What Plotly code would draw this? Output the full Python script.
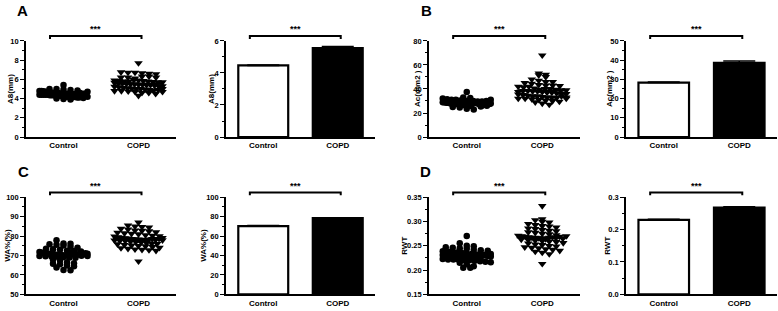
import numpy as np
import plotly.graph_objects as go

W, H = 778, 311
categories = ["Control", "COPD"]

# ---------------- data ----------------
a8_control = [5.4, 5.0, 5.0, 4.95, 4.9, 4.85, 4.8, 4.8, 4.75, 4.7, 4.7, 4.65, 4.6, 4.6, 4.6,
              4.55, 4.55, 4.5, 4.5, 4.5, 4.5, 4.45, 4.45, 4.45, 4.4, 4.4, 4.4, 4.4, 4.4, 4.35,
              4.35, 4.35, 4.3, 4.3, 4.3, 4.3, 4.45, 4.25, 4.2, 4.2, 4.2, 4.45, 4.15, 4.4, 4.1,
              4.1, 4.35, 4.05, 4.3, 4.0, 4.2, 3.95, 3.9, 4.6, 4.5, 4.5, 4.5, 4.7]
a8_copd = [7.7, 6.75, 6.7, 6.7, 6.65, 6.6, 6.55, 6.2, 6.2, 6.1, 6.3, 6.3, 6.2, 5.9, 5.85,
           5.8, 5.8, 5.95, 5.9, 5.85, 5.8, 5.75, 5.7, 5.7, 5.65, 5.6, 5.6, 5.55, 5.5, 5.5,
           5.45, 5.45, 5.4, 5.4, 5.35, 5.3, 5.3, 5.25, 5.2, 5.15, 5.1, 5.05, 5.0, 5.0, 4.95,
           4.9, 4.85, 4.8, 4.8, 4.75, 4.7, 4.6, 4.6, 4.5, 4.3, 4.9, 5.0, 4.7]
ac_control = [37.5, 33, 32.5, 32, 31.5, 31, 31, 30.5, 30.5, 30, 30, 29.5, 29.5, 29, 29, 29,
              28.5, 28.5, 28.5, 28, 28, 28, 28, 27.5, 27.5, 27.5, 27, 27, 27, 27, 26.5, 26.5,
              26.5, 26, 26, 26, 29, 29, 28.5, 28.5, 25, 24.5, 28, 27.5, 28, 23.5, 23, 26, 28,
              27, 29, 26, 28.5, 27.5, 30, 25.5, 31, 28]
ac_copd = [68, 53, 52, 51.5, 50, 48, 47, 46, 45, 44.5, 46, 43.5, 43, 42, 43, 42.5, 41.5, 42,
           40.5, 39.5, 37.5, 40, 40, 39.5, 39, 39, 38.5, 38.5, 38, 38, 37.5, 37, 37, 36.5, 36,
           36, 35.5, 35, 34.5, 34, 34, 33.5, 33, 33, 32.5, 32, 32, 31.5, 31, 30.5, 30, 29.5,
           29, 28, 27, 32, 34, 33]
wa_control = [77.8, 76.2, 76.0, 75.8, 75.5, 75.2, 74.5, 74.0, 73.5, 73.2, 73.0, 72.5, 72.3,
              72.0, 71.8, 71.5, 71.3, 71.0, 71.0, 70.8, 70.6, 70.5, 70.4, 70.3, 70.2, 70.1,
              70.0, 70.0, 69.8, 69.6, 69.5, 69.3, 69.2, 69.0, 68.8, 71.4, 71.1, 70.8, 67.8,
              67.5, 70.4, 70.6, 66.5, 66.0, 65.8, 65.5, 64.8, 64.5, 63.8, 62.5, 62.4, 70.5,
              70.2, 70.7, 69.9, 71.2, 70.9, 69.7]
wa_copd = [87.0, 85.5, 85.0, 84.8, 84.5, 83.8, 83.5, 83.0, 82.8, 82.5, 82.0, 81.8, 81.5,
           81.2, 81.0, 80.5, 80.2, 80.0, 79.8, 79.5, 79.2, 79.0, 78.8, 78.6, 78.4, 78.3, 78.2,
           78.0, 77.8, 77.6, 77.5, 77.2, 77.0, 76.8, 76.5, 76.2, 76.0, 75.8, 75.5, 75.2, 75.0,
           74.8, 74.5, 74.0, 73.8, 73.5, 73.2, 73.0, 72.8, 72.5, 67.0, 78.3, 78.5, 78.1, 78.6,
           79.1, 77.9]
rwt_control = [0.270, 0.255, 0.250, 0.249, 0.247, 0.246, 0.245, 0.244, 0.242, 0.241, 0.240,
               0.239, 0.238, 0.237, 0.236, 0.235, 0.234, 0.233, 0.232, 0.232, 0.231, 0.231,
               0.230, 0.230, 0.230, 0.229, 0.229, 0.228, 0.228, 0.227, 0.227, 0.226, 0.225,
               0.225, 0.224, 0.224, 0.223, 0.222, 0.222, 0.221, 0.220, 0.220, 0.219, 0.218,
               0.217, 0.216, 0.215, 0.212, 0.208, 0.205, 0.205, 0.231, 0.230, 0.232, 0.229,
               0.233, 0.228]
rwt_copd = [0.332, 0.305, 0.303, 0.300, 0.298, 0.295, 0.293, 0.291, 0.290, 0.288, 0.286,
            0.285, 0.283, 0.281, 0.280, 0.278, 0.277, 0.275, 0.274, 0.272, 0.271, 0.270,
            0.269, 0.268, 0.267, 0.267, 0.266, 0.265, 0.264, 0.263, 0.262, 0.261, 0.260,
            0.259, 0.258, 0.256, 0.255, 0.253, 0.252, 0.250, 0.249, 0.247, 0.246, 0.245,
            0.243, 0.242, 0.240, 0.238, 0.236, 0.233, 0.213, 0.267, 0.268, 0.266, 0.269,
            0.265, 0.270]

panel_letters = ["A", "B", "C", "D"]
y_titles = ["A8(mm)", "Ac(mm2 )", "WA%(%)", "RWT"]
significance = ["***", "***", "***", "***"]

# ---------------- layout / style ----------------
FONT = "Liberation Sans, Arial, sans-serif"
col_px = [(26, 176), (226, 375), (429, 580), (626, 777)]
row_px = [(38, 137), (199, 299)]
panels = [
    dict(row=0, cols=(0, 1), ctrl=a8_control, copd=a8_copd,
         sc=dict(range=[0, 10], dtick=2, minor=1, fmt=""),
         br=dict(range=[0, 6], dtick=2, minor=1, fmt=""),
         title_x=(11, 212)),
    dict(row=0, cols=(2, 3), ctrl=ac_control, copd=ac_copd,
         sc=dict(range=[0, 80], dtick=20, minor=10, fmt=""),
         br=dict(range=[0, 50], dtick=10, minor=5, fmt=""),
         title_x=(418, 610)),
    dict(row=1, cols=(0, 1), ctrl=wa_control, copd=wa_copd,
         sc=dict(range=[50, 100], dtick=10, minor=5, fmt=""),
         br=dict(range=[0, 100], dtick=20, minor=10, fmt=""),
         title_x=(8, 204)),
    dict(row=1, cols=(2, 3), ctrl=rwt_control, copd=rwt_copd,
         sc=dict(range=[0.15, 0.35], dtick=0.05, minor=0.025, fmt=".2f"),
         br=dict(range=[0, 0.3], dtick=0.1, minor=0.05, fmt=".1f"),
         title_x=(405, 608)),
]
letter_pos = [(22, 7), (426, 7), (23, 173), (425, 172)]


def fx(px):
    return px / W


def fy(px):
    return 1 - px / H


def swarm(values, px_per_unit, px_per_cat, d=6.5, binh=4.0, halfw=24.0):
    v = np.asarray(values, float)
    ypx = v * px_per_unit
    bins = np.floor(ypx / binh).astype(int)
    offs = np.zeros(len(v))
    for b in np.unique(bins):
        idx = np.where(bins == b)[0]
        n = len(idx)
        if n == 1:
            continue
        s = min(d + 0.5, 2 * halfw / (n - 1))
        for i, j in enumerate(idx):
            offs[j] = (i - (n - 1) / 2) * s
    return offs / px_per_cat


fig = go.Figure()
layout = dict(width=W, height=H, margin=dict(l=0, r=0, t=0, b=0),
              paper_bgcolor="white", plot_bgcolor="white", showlegend=False,
              font=dict(family=FONT, color="black"))
shapes, annotations = [], []

for p_i, p in enumerate(panels):
    r0, r1 = row_px[p["row"]]
    for kind, col in zip(("sc", "br"), p["cols"]):
        k = p["row"] * 4 + col + 1
        xs = "" if k == 1 else str(k)
        c0, c1 = col_px[col]
        ax = p[kind]
        px_per_cat = (c1 - c0) / 2.0
        px_per_unit = (r1 - r0) / (ax["range"][1] - ax["range"][0])

        layout["xaxis" + xs] = dict(
            domain=[fx(c0), min(fx(c1), 1.0)], anchor="y" + xs, range=[-0.5, 1.5],
            showline=True, linecolor="black", linewidth=1.6, ticks="",
            tickvals=[0, 1], ticktext=categories, showgrid=False, zeroline=False,
            tickfont=dict(size=8, family=FONT, weight="bold"), fixedrange=True)
        layout["yaxis" + xs] = dict(
            domain=[fy(r1), fy(r0)], anchor="x" + xs, range=ax["range"],
            showline=True, linecolor="black", linewidth=1.6, ticks="outside",
            ticklen=4, tickwidth=1.4, tickcolor="black", tick0=ax["range"][0],
            dtick=ax["dtick"], tickformat=ax["fmt"], showgrid=False, zeroline=False,
            minor=dict(ticks="outside", ticklen=2, tickwidth=1, tickcolor="black",
                       dtick=ax["minor"], tick0=ax["range"][0], showgrid=False),
            tickfont=dict(size=7.5, family=FONT, weight="bold"), fixedrange=True)

        groups = [p["ctrl"], p["copd"]]
        means = [float(np.mean(g)) for g in groups]
        sems = [float(np.std(g, ddof=1) / np.sqrt(len(g))) for g in groups]

        if kind == "sc":
            symbols = ["circle", "triangle-down"]
            sizes = [6.5, 7.5]
            for gi, g in enumerate(groups):
                off = swarm(g, px_per_unit, px_per_cat)
                fig.add_trace(go.Scatter(
                    x=gi + off, y=g, mode="markers", xaxis="x" + xs, yaxis="y" + xs,
                    marker=dict(symbol=symbols[gi], size=sizes[gi], color="black",
                                line=dict(width=0)), hoverinfo="skip"))
                fig.add_trace(go.Scatter(
                    x=[gi - 0.34, gi + 0.34], y=[means[gi], means[gi]], mode="lines",
                    xaxis="x" + xs, yaxis="y" + xs,
                    line=dict(color="black", width=2), hoverinfo="skip"))
        else:
            fig.add_trace(go.Bar(
                x=[0, 1], y=means, width=0.67, xaxis="x" + xs, yaxis="y" + xs,
                marker=dict(color=["white", "black"], line=dict(color="black", width=2.2)),
                error_y=dict(type="data", array=sems, symmetric=False, arrayminus=[0, 0],
                             color="black", thickness=1.5, width=16),
                hoverinfo="skip"))

        # significance bracket
        by = r0 - 5
        shapes.append(dict(
            type="path", xref="x" + xs, yref="paper",
            path=f"M -0.18,{fy(by + 3)} L -0.18,{fy(by)} L 1.04,{fy(by)} L 1.04,{fy(by + 3)}",
            line=dict(color="black", width=2)))
        annotations.append(dict(
            x=0.43, y=fy(by - 7), xref="x" + xs, yref="paper", text=significance[p_i],
            xanchor="center", yanchor="middle",
            showarrow=False, font=dict(size=9, family=FONT, weight="bold")))
        # y title
        tx = p["title_x"][0] if kind == "sc" else p["title_x"][1]
        annotations.append(dict(
            x=fx(tx), y=fy((r0 + r1) / 2), xref="paper", yref="paper",
            xanchor="center", yanchor="middle",
            text=y_titles[p_i], textangle=-90, showarrow=False,
            font=dict(size=8, family=FONT, weight="bold")))

    lx, ly = letter_pos[p_i]
    annotations.append(dict(
        x=fx(lx), y=fy(ly), xref="paper", yref="paper", text=panel_letters[p_i],
        xanchor="center", yanchor="middle",
        showarrow=False, font=dict(size=15, family=FONT, weight="bold")))

layout["shapes"] = shapes
layout["annotations"] = annotations
fig.update_layout(**layout)
fig.write_html("out.html", config={"displayModeBar": False},
               post_script="document.body.style.margin='0px';")
